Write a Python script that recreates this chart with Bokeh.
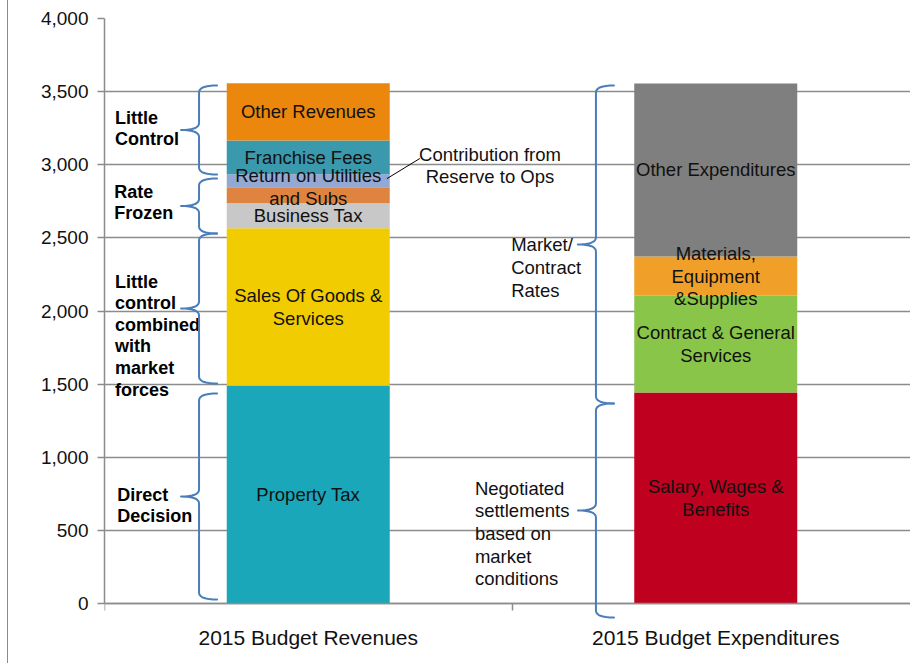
from bokeh.plotting import figure
from bokeh.models import (FixedTicker, ColumnDataSource, NumeralTickFormatter,
                          Range1d, PolyAnnotation)
from bokeh.core.properties import value
from bokeh.embed import file_html
from bokeh.resources import INLINE

# ---------------- data ----------------
categories = ["2015 Budget Revenues", "2015 Budget Expenditures"]

revenue_items = ["Property Tax", "Sales Of Goods & Services", "Business Tax",
                 "Return on Utilities and Subs", "Contribution from Reserve to Ops",
                 "Franchise Fees", "Other Revenues"]
revenue_values = [1490, 1076, 170, 111, 88, 231, 392]
revenue_labels = ["Property Tax", "Sales Of Goods &\nServices", "Business Tax",
                  "Return on Utilities\nand Subs", "", "Franchise Fees", "Other Revenues"]

expenditure_items = ["Salary, Wages & Benefits", "Contract & General Services",
                     "Materials, Equipment &Supplies", "Other Expenditures"]
expenditure_values = [1443, 661, 269, 1183]
expenditure_labels = ["Salary, Wages &\nBenefits", "Contract & General\nServices",
                      "Materials,\nEquipment\n&Supplies", "Other Expenditures"]

y_ticks = [0, 500, 1000, 1500, 2000, 2500, 3000, 3500, 4000]

# ---------------- styles / layout ----------------
revenue_colors = ["#19A7B9", "#F1CC00", "#C8C8C8", "#DE8440", "#94A8D4", "#3B99AD", "#EB870D"]
expenditure_colors = ["#C0001F", "#88C548", "#F0A028", "#7F7F7F"]
label_dy_px = {"Return on Utilities\nand Subs": 8}

FONT = "Liberation Sans"
GRID = "#8c8c8c"
BRACE = "#4A7EBB"
LH = 1.08

OFF = 8                      # left offset used for the chart-area border
W, H = 911 - OFF, 663
ML, MR, MT, MB = 104 - OFF, 0, 18, 0
axis_px = 603                # canvas row of the value axis' zero
frame_w, frame_h = W - ML - MR, H - MT - MB
slot_px = 407.5
x_end = frame_w / slot_px
y_top = 4000
sy = (axis_px - MT) / y_top
y_start = -(H - MB - axis_px) / sy
sx = frame_w / x_end
bar_width = 0.4

p = figure(width=W, height=H, output_backend="svg", toolbar_location=None,
           x_range=Range1d(0, x_end), y_range=Range1d(y_start, y_top),
           min_border_left=ML, min_border_right=MR, min_border_top=MT,
           min_border_bottom=MB)
p.outline_line_color = None
p.background_fill_color = "white"
p.border_fill_color = "white"
p.styles = {"margin-left": f"{OFF - 1}px", "border-left": "1px solid #8a8a8a"}

# axes
p.yaxis.ticker = FixedTicker(ticks=y_ticks)
p.yaxis.bounds = (0, y_top)
p.yaxis.formatter = NumeralTickFormatter(format="0,0")
p.yaxis.axis_line_color = GRID
p.yaxis.axis_line_width = 1.5
p.yaxis.major_tick_line_color = GRID
p.yaxis.major_tick_line_width = 1.5
p.yaxis.major_tick_out = 7
p.yaxis.major_tick_in = 0
p.yaxis.minor_tick_line_color = None
p.yaxis.major_label_text_font = FONT
p.yaxis.major_label_text_font_size = "19px"
p.yaxis.major_label_text_color = "#111111"
p.yaxis.major_label_standoff = 9

p.xaxis.fixed_location = 0
p.xaxis.ticker = FixedTicker(ticks=[0.5, 1.5], minor_ticks=[0, 1, 2])
p.xaxis.major_label_overrides = {0.5: categories[0], 1.5: categories[1]}
p.xaxis.axis_line_color = GRID
p.xaxis.axis_line_width = 1.5
p.xaxis.major_tick_line_color = None
p.xaxis.major_tick_out = 0
p.xaxis.major_tick_in = 0
p.xaxis.minor_tick_line_color = GRID
p.xaxis.minor_tick_line_width = 1.5
p.xaxis.minor_tick_out = 7
p.xaxis.minor_tick_in = 0
p.xaxis.major_label_text_font = FONT
p.xaxis.major_label_text_font_size = "21px"
p.xaxis.major_label_text_color = "#111111"
p.xaxis.major_label_standoff = 15

p.xgrid.visible = False
p.ygrid.ticker = FixedTicker(ticks=y_ticks)
p.ygrid.grid_line_color = GRID
p.ygrid.grid_line_width = 1.5

# ---------------- bars ----------------
def stack(xc, vals, labels, colors):
    bottoms, tops, ys = [], [], []
    acc = 0
    for v, lab in zip(vals, labels):
        bottoms.append(acc)
        tops.append(acc + v)
        ys.append(acc + v / 2 + label_dy_px.get(lab, 0) / sy)
        acc += v
    return dict(x=[xc] * len(vals), bottom=bottoms, top=tops, color=colors,
                label=labels, ly=ys)

for xc, vals, labs, cols in [(0.5, revenue_values, revenue_labels, revenue_colors),
                             (1.5, expenditure_values, expenditure_labels, expenditure_colors)]:
    src = ColumnDataSource(stack(xc, vals, labs, cols))
    p.vbar(x="x", bottom="bottom", top="top", width=bar_width, fill_color="color",
           line_color=None, source=src)
    p.text(x="x", y="ly", text="label", source=src, text_align="center",
           text_baseline="middle", text_font=value(FONT), text_font_size="18.5px",
           text_color="#111111", text_line_height=LH)

# ---------------- annotations ----------------
def brace_path(xc, y0, y1, d_px=18, r_px=7, n=8):
    dx = d_px / sx
    rx = r_px / sy
    ym = (y0 + y1) / 2
    pts = []

    def quad(p0, c, p1):
        out = []
        for i in range(n + 1):
            t = i / n
            out.append(((1 - t) ** 2 * p0[0] + 2 * (1 - t) * t * c[0] + t ** 2 * p1[0],
                        (1 - t) ** 2 * p0[1] + 2 * (1 - t) * t * c[1] + t ** 2 * p1[1]))
        return out
    pts += quad((xc + dx, y1), (xc, y1), (xc, y1 - rx))
    pts += quad((xc, ym + rx), (xc, ym), (xc - dx, ym))
    pts += quad((xc - dx, ym), (xc, ym), (xc, ym - rx))
    pts += quad((xc, y0 + rx), (xc, y0), (xc + dx, y0))
    full = pts + pts[::-1]
    return [q[0] for q in full], [q[1] for q in full]

brace_x = [0.232, 1.206]
braces = [(0, 2933, 3542), (0, 2530, 2906), (0, 1504, 2530), (0, 27, 1436),
          (1, 1368, 3542), (1, -96, 1368)]
for col, y0, y1 in braces:
    xs, ys = brace_path(brace_x[col], y0, y1)
    p.add_layout(PolyAnnotation(xs=xs, ys=ys, fill_alpha=0, line_color=BRACE,
                                line_alpha=1, line_width=2, line_join="round"))

bold_notes = [("Little\nControl", 0.026, 3248),
              ("Rate\nFrozen", 0.024, 2742),
              ("Little\ncontrol\ncombined\nwith\nmarket\nforces", 0.026, 1832),
              ("Direct\nDecision", 0.031, 670)]
p.text(x=[b[1] for b in bold_notes], y=[b[2] for b in bold_notes],
       text=[b[0] for b in bold_notes], text_align="left", text_baseline="middle",
       text_font=value(FONT), text_font_size="18px", text_font_style="bold",
       text_color="#000000", text_line_height=LH)

plain_notes = [("Market/\nContract\nRates", 0.998, 2297),
               ("Negotiated\nsettlements\nbased on\nmarket\nconditions", 0.909, 479)]
p.text(x=[b[1] for b in plain_notes], y=[b[2] for b in plain_notes],
       text=[b[0] for b in plain_notes], text_align="left", text_baseline="middle",
       text_font=value(FONT), text_font_size="18.5px", text_color="#111111",
       text_line_height=LH)

p.text(x=[0.946], y=[2995], text=["Contribution from\nReserve to Ops"],
       text_align="center", text_baseline="middle", text_font=value(FONT),
       text_font_size="18.5px", text_color="#111111", text_line_height=LH)
p.segment(x0=[0.693], y0=[2905], x1=[0.774], y1=[3043], line_color="black",
          line_width=1)

open("out.html", "w").write(file_html(p, INLINE))
